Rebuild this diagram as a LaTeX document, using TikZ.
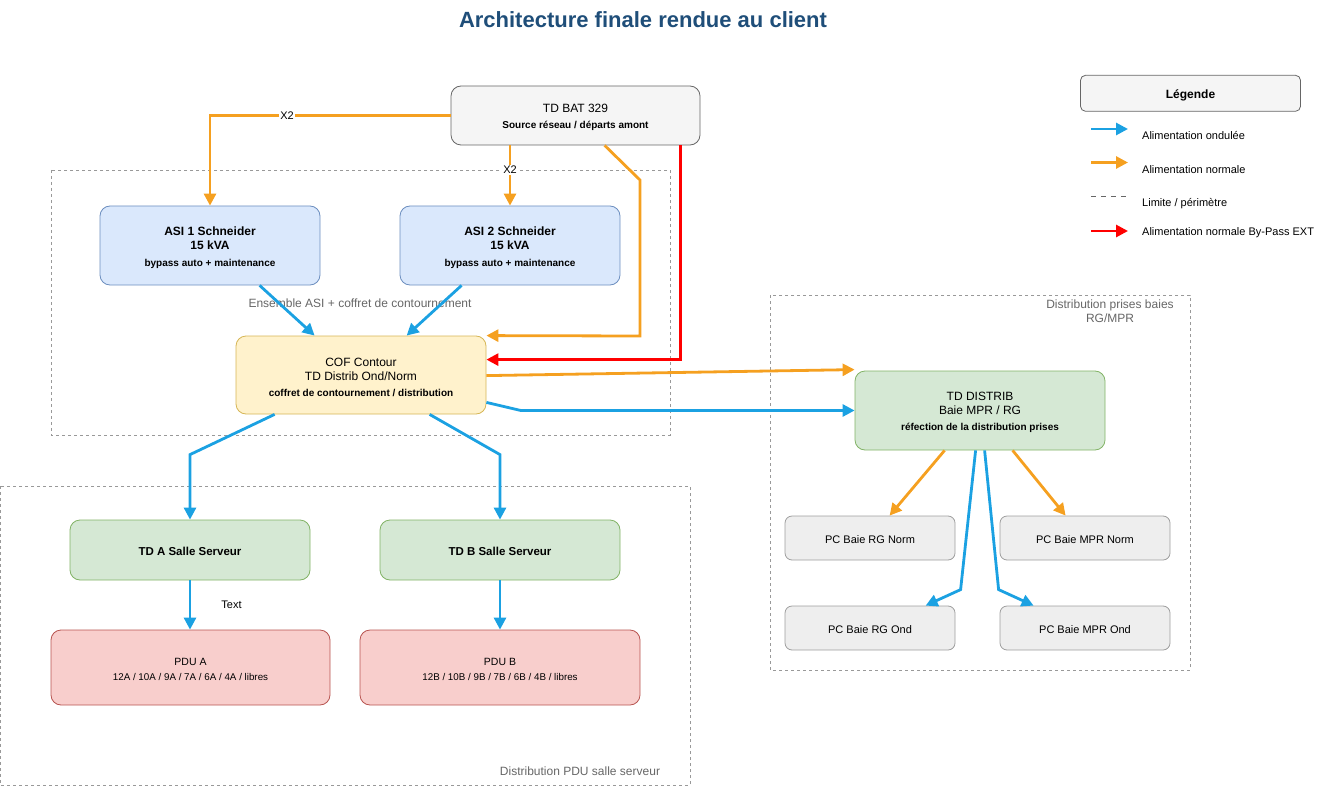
\documentclass[tikz,border=0pt]{standalone}
\usepackage{fontspec}
\setmainfont{Liberation Sans}
\usetikzlibrary{arrows.meta,calc}
\definecolor{titlecol}{HTML}{1F4E79}
\definecolor{bluec}{HTML}{1BA1E2}
\definecolor{orgc}{HTML}{F5A020}
\definecolor{redc}{HTML}{FF0000}
\definecolor{grayfill}{HTML}{F5F5F5}
\definecolor{graydraw}{HTML}{666666}
\definecolor{asifill}{HTML}{DAE8FC}
\definecolor{asidraw}{HTML}{6C8EBF}
\definecolor{coffill}{HTML}{FFF2CC}
\definecolor{cofdraw}{HTML}{D6B656}
\definecolor{grnfill}{HTML}{D5E8D4}
\definecolor{grndraw}{HTML}{82B366}
\definecolor{pcfill}{HTML}{EEEEEE}
\definecolor{pcdraw}{HTML}{9E9E9E}
\definecolor{pdufill}{HTML}{F8CECC}
\definecolor{pdudraw}{HTML}{B85450}
\definecolor{grptext}{HTML}{666666}
\definecolor{grpline}{HTML}{999999}
\newcommand{\padto}[1]{\rule{0pt}{#1}}
\begin{document}
\begin{tikzpicture}[x=1pt,y=-1pt,
  box/.style={draw, rounded corners=10pt, line width=0.8pt, align=center, inner sep=0pt, text=black},
  conn/.style={line width=2.8pt, -{Triangle[length=12pt,width=12pt]}},
  blu/.style={conn, draw=bluec},
  org/.style={conn, draw=orgc},
  rdd/.style={conn, draw=redc},
  grp/.style={draw=grpline, line width=0.8pt, dash pattern=on 3pt off 3pt},
  grplbl/.style={text=grptext, font=\fontsize{12}{14}\selectfont, align=center, inner sep=0pt},
  lbl/.style={font=\fontsize{11}{13}\selectfont, fill=white, inner sep=1pt},
  leglbl/.style={font=\fontsize{11}{13}\selectfont, anchor=west, inner sep=0pt}
]
\useasboundingbox (0,0) rectangle (1321,786);

% title
\node[font=\fontsize{22}{26}\selectfont\bfseries, text=titlecol] (title) at (643,20) {Architecture finale rendue au client};

% groups
\draw[grp] (51,170) rectangle (670,435);
\draw[grp] (770,295) rectangle (1190,670);
\draw[grp] (0,486) rectangle (690,785);
\node[grplbl] (g1) at (360,303) {Ensemble ASI + coffret de contournement};
\node[grplbl] (g2) at (1110,311) {Distribution prises baies\\RG/MPR};
\node[grplbl] (g3) at (580,771) {Distribution PDU salle serveur};

% nodes
\node[box, fill=grayfill, draw=graydraw, minimum width=249, minimum height=59, font=\fontsize{12}{16}\selectfont] (bat) at (575.5,115.5)
  {\padto{12.8pt}TD BAT 329\\\fontsize{10}{16}\selectfont\bfseries Source réseau / départs amont};
\node[box, fill=asifill, draw=asidraw, minimum width=220, minimum height=79, font=\fontsize{12}{14}\selectfont\bfseries] (asi1) at (210,245.5)
  {\padto{12.8pt}ASI 1 Schneider\\15 kVA\\[3pt]\fontsize{10}{14}\selectfont bypass auto + maintenance};
\node[box, fill=asifill, draw=asidraw, minimum width=220, minimum height=79, font=\fontsize{12}{14}\selectfont\bfseries] (asi2) at (510,245.5)
  {\padto{12.8pt}ASI 2 Schneider\\15 kVA\\[3pt]\fontsize{10}{14}\selectfont bypass auto + maintenance};
\node[box, fill=coffill, draw=cofdraw, minimum width=250, minimum height=78, font=\fontsize{12}{14}\selectfont] (cof) at (361,375)
  {\padto{12.8pt}COF Contour\\TD Distrib Ond/Norm\\[2pt]\fontsize{10}{14}\selectfont\bfseries coffret de contournement / distribution};
\node[box, fill=grnfill, draw=grndraw, minimum width=250, minimum height=79, font=\fontsize{12}{14}\selectfont] (tdd) at (980,410.5)
  {\padto{12.8pt}TD DISTRIB\\Baie MPR / RG\\[2pt]\fontsize{10}{14}\selectfont\bfseries réfection de la distribution prises};
\node[box, fill=pcfill, draw=pcdraw, rounded corners=7pt, minimum width=170, minimum height=44, font=\fontsize{11}{13}\selectfont] (pcrgn) at (870,538) {\padto{10.5pt}PC Baie RG Norm};
\node[box, fill=pcfill, draw=pcdraw, rounded corners=7pt, minimum width=170, minimum height=44, font=\fontsize{11}{13}\selectfont] (pcmprn) at (1085,538) {\padto{10.5pt}PC Baie MPR Norm};
\node[box, fill=pcfill, draw=pcdraw, rounded corners=7pt, minimum width=170, minimum height=44, font=\fontsize{11}{13}\selectfont] (pcrgo) at (870,628) {\padto{10.5pt}PC Baie RG Ond};
\node[box, fill=pcfill, draw=pcdraw, rounded corners=7pt, minimum width=170, minimum height=44, font=\fontsize{11}{13}\selectfont] (pcmpro) at (1085,628) {\padto{10.5pt}PC Baie MPR Ond};
\node[box, fill=grnfill, draw=grndraw, minimum width=240, minimum height=60, font=\fontsize{11.5}{13}\selectfont\bfseries] (tda) at (190,550) {\padto{10.3pt}TD A Salle Serveur};
\node[box, fill=grnfill, draw=grndraw, minimum width=240, minimum height=60, font=\fontsize{11.5}{13}\selectfont\bfseries] (tdb) at (500,550) {\padto{10.3pt}TD B Salle Serveur};
\node[box, fill=pdufill, draw=pdudraw, minimum width=279, minimum height=75, font=\fontsize{10.5}{15}\selectfont] (pdua) at (190.5,667.5)
  {\padto{11.5pt}PDU A\\\fontsize{9.8}{15}\selectfont 12A / 10A / 9A / 7A / 6A / 4A / libres};
\node[box, fill=pdufill, draw=pdudraw, minimum width=280, minimum height=75, font=\fontsize{10.5}{15}\selectfont] (pdub) at (500,667.5)
  {\padto{11.5pt}PDU B\\\fontsize{9.8}{15}\selectfont 12B / 10B / 9B / 7B / 6B / 4B / libres};

% connectors
\draw[org] (bat.west) -| node[lbl, pos=0.34] {X2} (asi1.north);
\draw[org] (bat.south -| asi2.north) -- node[lbl, pos=0.41] {X2} (asi2.north);
\draw[org] ($(bat.south west)+(154,0)$) -- (640,180) -- (640,336) -- (cof.north east);
\draw[rdd] ($(bat.south west)+(230,0)$) |- ($(cof.north east)+(0,24)$);
\draw[blu] ($(asi1.south west)+(160,0)$) -- ($(cof.north west)+(79,0)$);
\draw[blu] ($(asi2.south west)+(62,0)$) -- ($(cof.north west)+(171,0)$);
\draw[org] ($(cof.north east)+(0,40)$) -- ($(tdd.north west)+(0,-1)$);
\draw[blu] ($(cof.south east)+(0,-12)$) -- ($(cof.south east)+(34,-4)$) -- (tdd.west);
\draw[blu] ($(cof.south west)+(39,0)$) -- ($(tda.north)+(0,-65)$) -- (tda.north);
\draw[blu] ($(cof.south west)+(194,0)$) -- ($(tdb.north)+(0,-65)$) -- (tdb.north);
\draw[blu] (tda.south) -- node[font=\fontsize{11}{13}\selectfont, right=30pt, inner sep=0pt] {Text} (tda.south |- pdua.north);
\draw[blu] (tdb.south) -- (pdub.north);
\draw[org] ($(tdd.south west)+(90,0)$) -- ($(pcrgn.north west)+(105,0)$);
\draw[org] ($(tdd.south west)+(158,0)$) -- ($(pcmprn.north west)+(66,0)$);
\draw[blu] ($(tdd.south west)+(121,0)$) -- ($(pcrgo.north west)+(176,-16)$) -- ($(pcrgo.north west)+(141,0)$);
\draw[blu] ($(tdd.south west)+(130,0)$) -- ($(pcmpro.north west)+(-1,-16)$) -- ($(pcmpro.north west)+(34,0)$);

% legend
\node[box, fill=grayfill, draw=graydraw, rounded corners=5pt, minimum width=220, minimum height=36, font=\fontsize{12}{14}\selectfont\bfseries] (leg) at (1190.5,93.3) {\padto{13.5pt}Légende};
\coordinate (lb1) at (1091,129); \coordinate (lb2) at (1128,129);
\coordinate (lo1) at (1091,162.5); \coordinate (lo2) at (1128,162.5);
\coordinate (ld1) at (1091,196.5); \coordinate (ld2) at (1128,196.5);
\coordinate (lr1) at (1091,231); \coordinate (lr2) at (1128,231);
\draw[blu] (lb1) -- (lb2);
\draw[org] (lo1) -- (lo2);
\draw[draw=graydraw, line width=1.3pt, dash pattern=on 5pt off 5pt] (ld1) -- (ld2);
\draw[rdd] (lr1) -- (lr2);
\node[leglbl] (t1) at (1142,136) {Alimentation ondulée};
\node[leglbl] (t2) at (1142,170) {Alimentation normale};
\node[leglbl] (t3) at (1142,204) {Limite / périmètre};
\node[leglbl] (t4) at (1142,233) {Alimentation normale By-Pass EXT};
\end{tikzpicture}
\end{document}
